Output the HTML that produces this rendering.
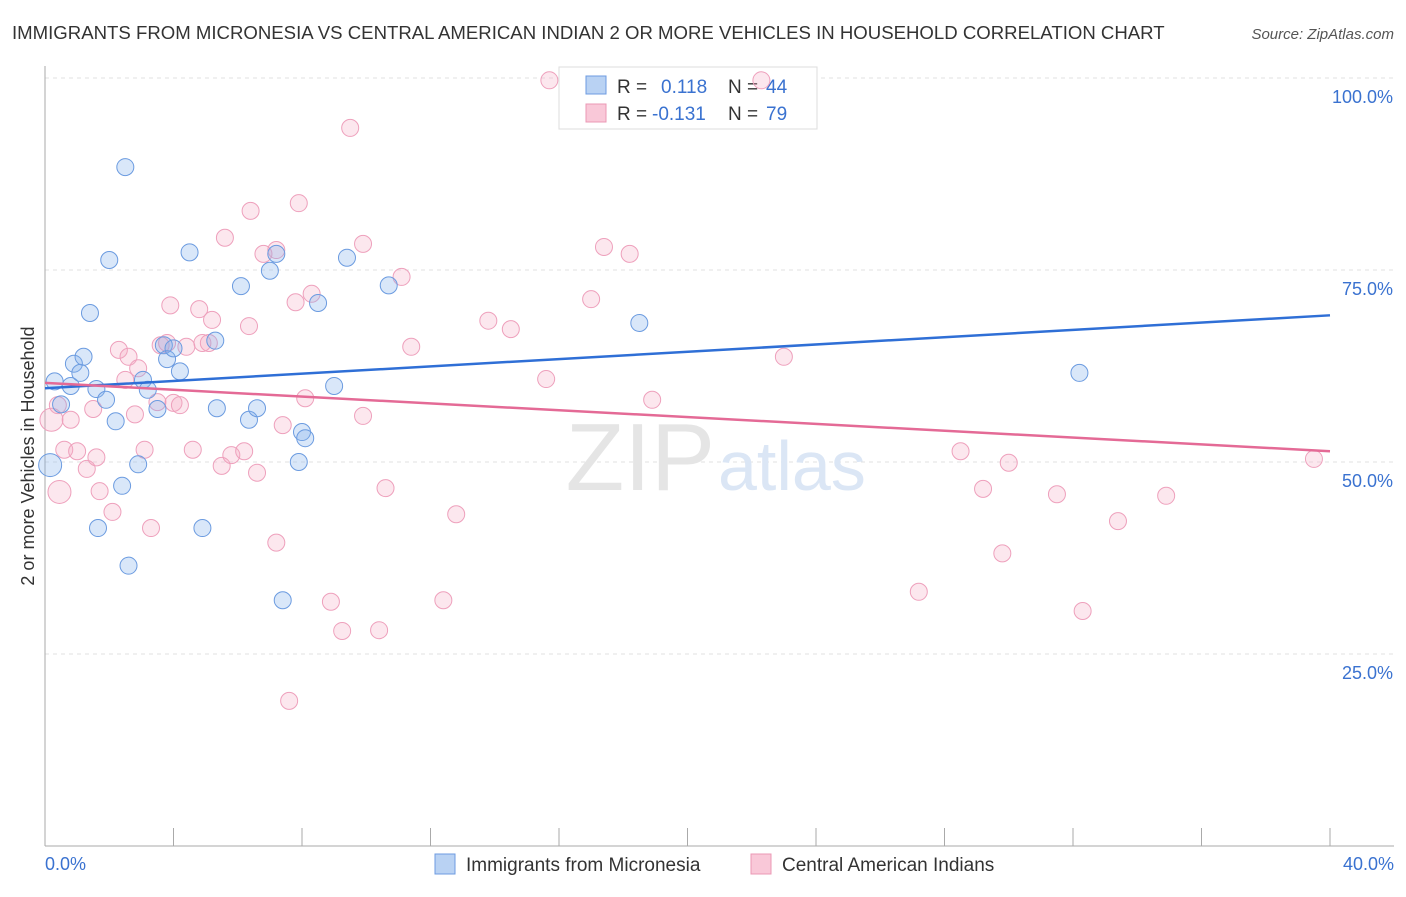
<!DOCTYPE html>
<html><head><meta charset="utf-8"><style>
body{margin:0;background:#fff;font-family:"Liberation Sans",sans-serif;}
svg text{font-family:"Liberation Sans",sans-serif;}
</style></head><body>
<svg width="1406" height="892" viewBox="0 0 1406 892">
<text x="12" y="39" font-size="18.6" fill="#333">IMMIGRANTS FROM MICRONESIA VS CENTRAL AMERICAN INDIAN 2 OR MORE VEHICLES IN HOUSEHOLD CORRELATION CHART</text>
<text x="1394" y="39" font-size="15" fill="#555" font-style="italic" text-anchor="end">Source: ZipAtlas.com</text>
<g id="grid"></g>
<text x="715" y="490" font-size="96" fill="#e5e5e5" text-anchor="end" font-family="Liberation Serif">ZIP</text>
<text x="718" y="490" font-size="70" fill="#dbe6f5">atlas</text>
<g>
<rect x="559" y="67" width="258" height="62" fill="#fff" stroke="#ddd"/>
<rect x="586" y="76" width="20" height="18" fill="#b9d2f3" stroke="#6d9be0"/>
<rect x="586" y="104" width="20" height="18" fill="#f9c8d8" stroke="#eb98b5"/>
<text x="617" y="93" font-size="19" fill="#333">R = </text><text x="661" y="93" font-size="19" fill="#3a72d0">0.118</text>
<text x="728" y="93" font-size="19" fill="#333">N = </text><text x="766" y="93" font-size="19" fill="#3a72d0">44</text>
<text x="617" y="120" font-size="19" fill="#333">R = </text><text x="652" y="120" font-size="19" fill="#3a72d0">-0.131</text>
<text x="728" y="120" font-size="19" fill="#333">N = </text><text x="766" y="120" font-size="19" fill="#3a72d0">79</text>
</g>
<g id="marks"></g>
<text transform="translate(34,456) rotate(-90)" font-size="18" fill="#333" text-anchor="middle">2 or more Vehicles in Household</text>
<g>
<rect x="435" y="854" width="20" height="20" fill="#b9d2f3" stroke="#6d9be0"/>
<text x="466" y="871" font-size="19" fill="#333">Immigrants from Micronesia</text>
<rect x="751" y="854" width="20" height="20" fill="#f9c8d8" stroke="#eb98b5"/>
<text x="782" y="871" font-size="19" fill="#333">Central American Indians</text>
</g>
</svg>
<script>
const blueX=[0.16,0.3,0.5,0.8,0.9,1.1,1.2,1.4,1.6,1.65,1.9,2.0,2.2,2.4,2.5,2.6,2.9,3.05,3.2,3.5,3.7,3.8,4.0,4.2,4.5,4.9,5.3,5.35,6.1,6.35,6.6,7.0,7.2,7.4,7.9,8.0,8.1,8.5,9.0,9.4,10.7,18.5,32.2];
const blueY=[49.6,60.5,57.5,59.9,62.8,61.6,63.7,69.4,59.5,41.4,58.1,76.3,55.3,46.9,88.4,36.5,49.7,60.7,59.4,56.9,65.2,63.4,64.8,61.8,77.3,41.4,65.8,57.0,72.9,55.5,57.0,74.9,77.1,32.0,50.0,53.9,53.1,70.7,59.9,76.6,73.0,68.1,61.6];
const pinkX=[0.2,0.4,0.45,0.6,0.8,1.0,1.3,1.5,1.6,1.7,2.1,2.3,2.5,2.6,2.8,2.9,3.1,3.3,3.5,3.6,3.8,3.9,4.0,4.2,4.4,4.6,4.8,4.9,5.1,5.2,5.5,5.6,5.8,6.2,6.35,6.4,6.6,6.8,7.2,7.2,7.4,7.8,7.9,8.1,8.3,8.9,9.25,9.5,9.9,9.9,10.4,10.6,11.1,11.4,12.4,12.8,13.8,14.5,15.6,15.7,17.0,17.4,18.2,18.9,22.3,23.0,27.2,28.5,29.2,29.8,30.0,31.5,32.3,33.4,34.9,39.5,7.6];
const pinkY=[55.5,57.4,46.1,51.6,55.5,51.4,49.1,56.9,50.6,46.2,43.5,64.6,60.7,63.7,56.2,62.2,51.6,41.4,57.8,65.2,65.5,70.4,57.7,57.4,65.0,51.6,69.9,65.5,65.5,68.5,49.5,79.2,50.9,51.4,67.7,82.7,48.6,77.1,77.6,39.5,54.8,70.8,83.7,58.3,71.9,31.8,28.0,93.5,78.4,56.0,28.1,46.6,74.1,65.0,32.0,43.2,68.4,67.3,60.8,99.7,71.2,78.0,77.1,58.1,99.7,63.7,33.1,51.4,46.5,38.1,49.9,45.8,30.6,42.3,45.6,50.4,18.9];
const blueBig=[0];
const pinkBig=[0,2];
const blueTrend=[59.6,69.1];
const pinkTrend=[60.3,51.4];
const xTicks=[4,8,12,16,20,24,28,32,36,40];
const yTicks=[25,50,75,100];
const yTickLabels=["25.0%","50.0%","75.0%","100.0%"];
const xEndLabels=["0.0%","40.0%"];

const NS="http://www.w3.org/2000/svg";
const X=v=>45+v/40*1285, Y=v=>846-v/100*768;
function mk(t,a,p){const e=document.createElementNS(NS,t);for(const k in a)e.setAttribute(k,a[k]);p.appendChild(e);return e;}
const grid=document.getElementById('grid'), marks=document.getElementById('marks');
yTicks.forEach((t,i)=>{
 const l=mk('line',{x1:45,x2:1394,y1:Y(t),y2:Y(t),stroke:'#e2e2e2','stroke-dasharray':'4,4'},grid);
 
 
 const tx=mk('text',{x:1393,y:Y(t)+25,'font-size':18,fill:'#3a72d0','text-anchor':'end'},grid);
 tx.textContent=yTickLabels[i];
 
 
});
const ya=mk('line',{x1:45,x2:45,y1:66,y2:846,stroke:'#aaa'},grid);


const xa=mk('line',{x1:45,x2:1394,y1:846,y2:846,stroke:'#aaa'},grid);


xTicks.forEach(t=>{const l=mk('line',{x1:X(t),x2:X(t),y1:828,y2:846,stroke:'#aaa'},grid);
 
 });
[[0,'start',45],[40,'end',1394]].forEach((d,i)=>{const tx=mk('text',{x:d[2],y:870,'font-size':18,fill:'#3a72d0','text-anchor':d[1]},grid);tx.textContent=xEndLabels[i];
 
 });
function pts(xs,ys,big,fill,stroke,name){xs.forEach((x,i)=>{const c=mk('circle',{cx:X(x),cy:Y(ys[i]),r:big.includes(i)?11.5:8.5,fill:fill,stroke:stroke,'stroke-width':1},marks);
 
 });}
pts(pinkX,pinkY,pinkBig,'rgba(245,170,195,0.28)','#eea0bc','point-central-american');
pts(blueX,blueY,blueBig,'rgba(130,175,235,0.3)','#6b9be0','point-micronesia');
const tb=mk('line',{x1:X(0),x2:X(40),y1:Y(blueTrend[0]),y2:Y(blueTrend[1]),stroke:'#2f6fd6','stroke-width':2.5},marks);


const tp=mk('line',{x1:X(0),x2:X(40),y1:Y(pinkTrend[0]),y2:Y(pinkTrend[1]),stroke:'#e46a96','stroke-width':2.5},marks);


</script>
</body></html>
